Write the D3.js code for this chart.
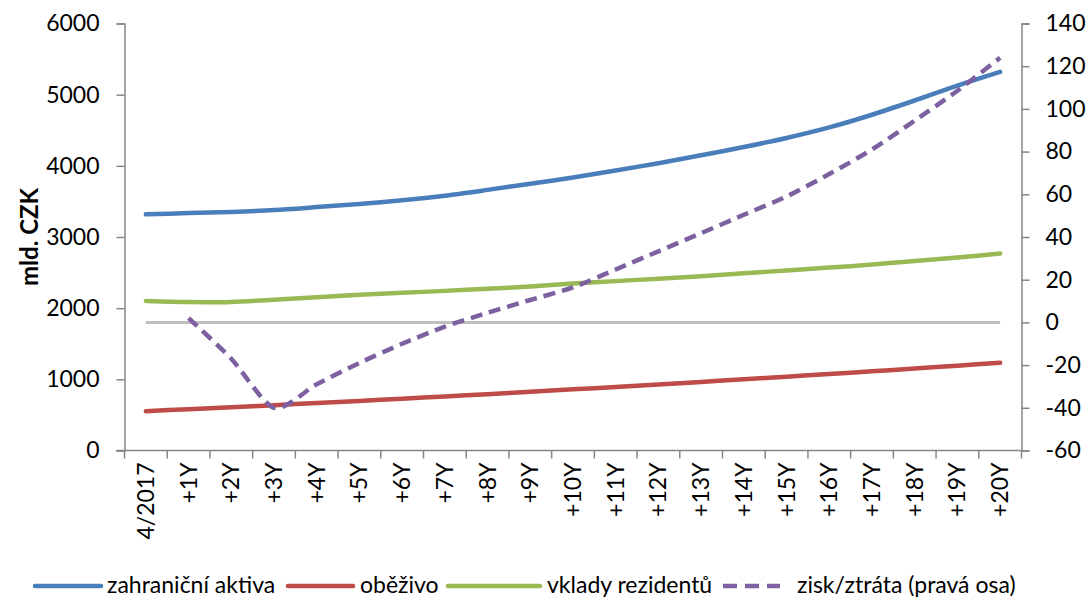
<!DOCTYPE html>
<html>
<head>
<meta charset="utf-8">
<script src="https://cdn.jsdelivr.net/npm/d3@7"></script>
<style>
  html, body { margin: 0; padding: 0; background: #fff; }
  svg { display: block; }
  text { font-family: Lato, "Open Sans", sans-serif; fill: #000; }
</style>
</head>
<body>
<svg id="chart" width="1090" height="597"></svg>
<script>
// Categories: start date and yearly horizon steps
const categories = ["4/2017", "+1Y", "+2Y", "+3Y", "+4Y", "+5Y", "+6Y", "+7Y", "+8Y", "+9Y", "+10Y",
  "+11Y", "+12Y", "+13Y", "+14Y", "+15Y", "+16Y", "+17Y", "+18Y", "+19Y", "+20Y"];

// Left axis series (mld. CZK)
const zahranicniAktiva = [3318, 3337, 3353, 3378, 3420, 3465, 3515, 3580, 3662, 3748, 3835,
  3935, 4037, 4148, 4265, 4392, 4540, 4718, 4918, 5128, 5320];
const obezivo = [553, 580, 608, 637, 667, 697, 728, 760, 792, 825, 859,
  893, 928, 964, 1000, 1037, 1075, 1113, 1152, 1192, 1233];
const vkladyRezidentu = [2100, 2085, 2088, 2118, 2155, 2188, 2215, 2243, 2272, 2305, 2345,
  2380, 2415, 2450, 2490, 2530, 2570, 2612, 2662, 2712, 2768];

// Right axis series
const ziskZtrata = [null, 2, -17, -40, -29, -19, -10, -2, 4.5, 10.5, 16.4,
  24.8, 33.3, 41.8, 50.4, 59, 69.5, 81, 94.5, 108.5, 124];
const nulovaLinie = categories.map(() => 0);

// Axis ticks
const leftTicks = [0, 1000, 2000, 3000, 4000, 5000, 6000];
const rightTicks = [-60, -40, -20, 0, 20, 40, 60, 80, 100, 120, 140];

const legendItems = [
  { label: "zahraniční aktiva", color: "#4A7EBB", dash: null },
  { label: "oběživo", color: "#BE4B48", dash: null },
  { label: "vklady rezidentů", color: "#98B954", dash: null },
  { label: "zisk/ztráta (pravá osa)", color: "#7D60A0", dash: "12,7" }
];

const svg = d3.select("#chart");
const plotLeft = 124.5, plotRight = 1021.5, plotTop = 23.5, plotBottom = 450.5;
const axisColor = "#868686";
const fontSize = 23;
const fmt = d => String(d);

const x = d3.scaleBand().domain(categories).range([plotLeft, plotRight]).padding(0);
const cx = c => x(c) + x.bandwidth() / 2;
const yL = d3.scaleLinear().domain([0, 6000]).range([plotBottom, plotTop]);
const yR = d3.scaleLinear().domain([-60, 140]).range([plotBottom, plotTop]);

// Left axis
const gL = svg.append("g").attr("transform", `translate(${plotLeft},0)`)
  .call(d3.axisLeft(yL).tickValues(leftTicks).tickSize(8).tickPadding(17).tickFormat(fmt));
gL.select(".domain").attr("stroke", axisColor).attr("stroke-width", 1.5);
gL.selectAll(".tick line").attr("stroke", axisColor).attr("stroke-width", 1.5);
gL.selectAll(".tick text").style("font-size", fontSize + "px").style("font-family", "Lato");

// Right axis
const gR = svg.append("g").attr("transform", `translate(${plotRight},0)`)
  .call(d3.axisRight(yR).tickValues(rightTicks).tickSize(8).tickPadding(16).tickFormat(fmt));
gR.select(".domain").attr("stroke", axisColor).attr("stroke-width", 1.5);
gR.selectAll(".tick line").attr("stroke", axisColor).attr("stroke-width", 1.5);
gR.selectAll(".tick text").style("font-size", fontSize + "px").style("font-family", "Lato");

// Bottom axis: labels at band centres, ticks at band boundaries
const gB = svg.append("g").attr("transform", `translate(0,${plotBottom})`);
gB.append("line").attr("x1", plotLeft - 8).attr("x2", plotRight).attr("y1", 0).attr("y2", 0)
  .attr("stroke", axisColor).attr("stroke-width", 1.5);
const boundaries = categories.map(c => x(c)).concat([plotRight]);
gB.selectAll("line.tk").data(boundaries).enter().append("line").attr("class", "tk")
  .attr("x1", d => d).attr("x2", d => d).attr("y1", 0).attr("y2", 8)
  .attr("stroke", axisColor).attr("stroke-width", 1.5);
gB.selectAll("text").data(categories).enter().append("text")
  .attr("transform", d => `translate(${cx(d)},12) rotate(-90)`)
  .attr("text-anchor", "end").attr("dy", "0.35em")
  .style("font-size", fontSize + "px")
  .text(d => d);

// Y axis title
svg.append("text")
  .attr("transform", `translate(30,${(plotTop + plotBottom) / 2}) rotate(-90)`)
  .attr("text-anchor", "middle").attr("dy", "0.35em")
  .style("font-size", "24px").style("font-weight", "bold")
  .text("mld. CZK");

const curve = d3.curveCardinal.tension(0.25);
const lineL = d3.line().x((d, i) => cx(categories[i])).y(d => yL(d)).curve(curve);
const lineR = d3.line().defined(d => d !== null).x((d, i) => cx(categories[i])).y(d => yR(d)).curve(curve);

// Zero reference line on the right axis
svg.append("path").datum(nulovaLinie).attr("d", lineR)
  .attr("fill", "none").attr("stroke", "#BFBFBF").attr("stroke-width", 3);

const series = [
  { data: vkladyRezidentu, color: legendItems[2].color },
  { data: obezivo, color: legendItems[1].color },
  { data: zahranicniAktiva, color: legendItems[0].color }
];
series.forEach(s => {
  svg.append("path").datum(s.data).attr("d", lineL)
    .attr("fill", "none").attr("stroke", s.color).attr("stroke-width", 4.5)
    .attr("stroke-linecap", "round").attr("stroke-linejoin", "round");
});

svg.append("path").datum(ziskZtrata).attr("d", lineR)
  .attr("fill", "none").attr("stroke", legendItems[3].color).attr("stroke-width", 4.5)
  .attr("stroke-dasharray", legendItems[3].dash).attr("stroke-linecap", "butt");

// Legend: swatch start, swatch end, text start
const legY = 586;
const legendLayout = [[35, 101, 107], [288, 353, 360], [448, 540, 547], [723, 780, 797]];
const lg = svg.append("g");
legendItems.forEach((it, i) => {
  const [x0, x1, tx] = legendLayout[i];
  lg.append("line").attr("x1", x0).attr("x2", x1).attr("y1", legY).attr("y2", legY)
    .attr("stroke", it.color).attr("stroke-width", 4.5)
    .attr("stroke-linecap", it.dash ? "butt" : "round")
    .attr("stroke-dasharray", it.dash ? "14,8" : null);
  lg.append("text").attr("x", tx).attr("y", legY).attr("dy", "0.3em")
    .style("font-size", fontSize + "px").text(it.label);
});
</script>
</body>
</html>
